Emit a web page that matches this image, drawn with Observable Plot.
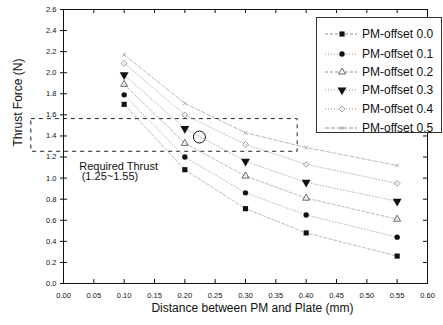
<!DOCTYPE html>
<html><head><meta charset="utf-8">
<script src="https://cdn.jsdelivr.net/npm/d3@7"></script>
<script src="https://cdn.jsdelivr.net/npm/@observablehq/plot@0.6"></script>
<style>
html,body{margin:0;padding:0;background:#fff;}
#wrap{position:relative;width:443px;height:325px;font-family:"Liberation Sans",Arial,sans-serif;}
#legend{position:absolute;left:316px;top:17px;width:126px;height:116px;border:1px solid #333;background:#fff;box-sizing:border-box;}
.row{position:absolute;left:0;height:18px;display:flex;align-items:center;font-size:12px;color:#111;}
.row svg{display:block;}
</style></head>
<body><div id="wrap"><div id="chart"></div><div id="legend"></div></div>
<script>
const distances = [0.1, 0.2, 0.3, 0.4, 0.55];
const seriesNames = ["PM-offset 0.0","PM-offset 0.1","PM-offset 0.2","PM-offset 0.3","PM-offset 0.4","PM-offset 0.5"];
const offset00 = [1.70, 1.08, 0.71, 0.48, 0.26];
const offset01 = [1.79, 1.20, 0.86, 0.65, 0.44];
const offset02 = [1.89, 1.33, 1.02, 0.81, 0.61];
const offset03 = [1.98, 1.47, 1.16, 0.96, 0.78];
const offset04 = [2.09, 1.60, 1.32, 1.13, 0.95];
const offset05 = [2.17, 1.71, 1.43, 1.29, 1.12];
const xTicks = [0,0.05,0.1,0.15,0.2,0.25,0.3,0.35,0.4,0.45,0.5,0.55,0.6];
const yTicks = [0,0.2,0.4,0.6,0.8,1.0,1.2,1.4,1.6,1.8,2.0,2.2,2.4,2.6];
const requiredRange = [1.25, 1.56];
const boxX = [-0.053, 0.386];
const circleMark = [{x: 0.224, y: 1.39}];
const noteLines = [{x: 0.026, y: 1.115, t: "Required Thrust"}, {x: 0.03, y: 1.015, t: "(1.25~1.55)"}];

const allSeries = [offset00, offset01, offset02, offset03, offset04, offset05];
const styles = [
  {symbol: "square", fill: "#111", stroke: "none", r: 2.9, rotate: 0, dash: "3,2"},
  {symbol: "circle", fill: "#111", stroke: "none", r: 2.7, rotate: 0, dash: "1,2"},
  {symbol: "triangle", fill: "none", stroke: "#666", r: 2.6, rotate: 0, dash: "3,2"},
  {symbol: "triangle", fill: "#111", stroke: "none", r: 3.3, rotate: 180, dash: "1,2"},
  {symbol: "diamond2", fill: "none", stroke: "#999", r: 2.6, rotate: 0, dash: "1,2"},
  {symbol: "times", fill: "none", stroke: "#aaa", r: 1.8, rotate: 0, dash: "4,2"}
];
const rows = [];
allSeries.forEach((vals, i) => vals.forEach((v, j) => rows.push({s: i, x: distances[j], y: v})));

const marks = [
  Plot.frame({stroke: "#111", strokeWidth: 1}),
  Plot.axisX({ticks: xTicks, tickFormat: d3.format(".2f"), tickSize: 0, tickPadding: 9, fontSize: 7.5, label: null}),
  Plot.axisY({ticks: yTicks, tickFormat: d3.format(".1f"), tickSize: 3, tickPadding: 4, fontSize: 7.5, label: null}),
  Plot.tickX(xTicks, {x: d => d, insetTop: 270, stroke: "#111"}),
  Plot.tickX(xTicks, {x: d => d, insetBottom: 270, stroke: "#111"}),
  Plot.tickY(yTicks, {y: d => d, insetRight: 360, stroke: "#111"}),
  Plot.tickY(yTicks, {y: d => d, insetLeft: 360, stroke: "#111"}),
  Plot.text(["Distance between PM and Plate (mm)"], {frameAnchor: "bottom", dy: 28, dx: 7, fontSize: 12, fill: "#111"}),
  Plot.text(["Thrust Force (N)"], {frameAnchor: "left", rotate: -90, dx: -45, fontSize: 12, fill: "#111"}),
  Plot.rect([0], {x1: () => boxX[0], x2: () => boxX[1], y1: () => requiredRange[0], y2: () => requiredRange[1], fill: "none", stroke: "#222", strokeDasharray: "4,4", strokeWidth: 1, clip: false}),
  Plot.dot(circleMark, {x: "x", y: "y", r: 6, stroke: "#111", fill: "none", strokeWidth: 1}),
  Plot.text(noteLines, {x: "x", y: "y", text: "t", textAnchor: "start", fontSize: 11, fill: "#111"})
];
styles.forEach((st, i) => {
  const d = rows.filter(r => r.s === i);
  marks.push(Plot.line(d, {x: "x", y: "y", stroke: "#aaa", strokeWidth: 0.8, strokeDasharray: st.dash}));
});
styles.forEach((st, i) => {
  const d = rows.filter(r => r.s === i);
  marks.push(Plot.dot(d, {x: "x", y: "y", symbol: () => st.symbol, r: st.r, fill: st.fill, stroke: st.stroke, strokeWidth: 1, rotate: st.rotate}));
});

const chart = Plot.plot({
  width: 443, height: 325,
  marginLeft: 63, marginRight: 16, marginTop: 9, marginBottom: 42,
  x: {domain: [0, 0.6]},
  y: {domain: [0, 2.6]},
  style: {fontFamily: "'Liberation Sans', Arial, sans-serif", color: "#111", background: "#fff"},
  marks
});
document.getElementById("chart").appendChild(chart);

// legend
const legend = document.getElementById("legend");
const symMap = {square: d3.symbolSquare, circle: d3.symbolCircle, triangle: d3.symbolTriangle, diamond2: d3.symbolDiamond2, times: d3.symbolTimes};
const rowTops = [7, 27, 45, 63, 82, 101];
seriesNames.forEach((name, i) => {
  const st = styles[i];
  const row = document.createElement("div");
  row.className = "row";
  row.style.top = rowTops[i] + "px";
  const svg = d3.create("svg").attr("width", 44).attr("height", 18);
  svg.append("line").attr("x1", 8).attr("x2", 40).attr("y1", 9).attr("y2", 9).attr("stroke", "#777").attr("stroke-width", 0.8).attr("stroke-dasharray", st.dash);
  const area = Math.PI * st.r * st.r;
  svg.append("path").attr("d", d3.symbol(symMap[st.symbol], area)())
    .attr("transform", `translate(25,9) rotate(${st.rotate})`)
    .attr("fill", st.fill === "none" ? "#fff" : st.fill).attr("stroke", st.stroke).attr("stroke-width", 1);
  row.appendChild(svg.node());
  const span = document.createElement("span");
  span.textContent = name;
  span.style.marginLeft = "1px";
  row.appendChild(span);
  legend.appendChild(row);
});
</script></body></html>
